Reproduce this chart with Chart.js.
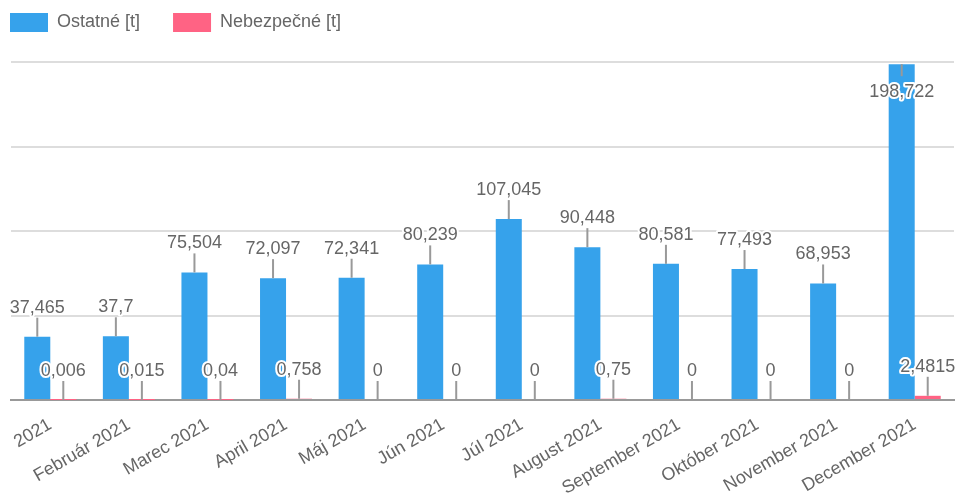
<!DOCTYPE html>
<html>
<head>
<meta charset="utf-8">
<script src="https://cdn.jsdelivr.net/npm/chart.js@4/dist/chart.umd.min.js"></script>
<style>
  html, body { margin: 0; padding: 0; background: #fff; }
  #wrap { width: 957px; height: 495px; }
</style>
</head>
<body>
<div id="wrap"><canvas id="graf"></canvas></div>
<script>
const mesiace = ['Január 2021', 'Február 2021', 'Marec 2021', 'April 2021', 'Máj 2021', 'Jún 2021',
  'Júl 2021', 'August 2021', 'September 2021', 'Október 2021', 'November 2021', 'December 2021'];
const ostatne = [37.465, 37.7, 75.504, 72.097, 72.341, 80.239, 107.045, 90.448, 80.581, 77.493, 68.953, 198.722];
const nebezpecne = [0.006, 0.015, 0.04, 0.758, 0, 0, 0, 0.75, 0, 0, 0, 2.4815];

const FONT = '"Liberation Sans", Arial, Helvetica, sans-serif';

/* ── popisky s čiarou nad stĺpcami ── */
const popisky = {
  id: 'popisky',
  beforeInit(chart) {
    // viac miesta pod legendou
    const fit = chart.legend.fit;
    chart.legend.fit = function () { fit.call(this); this.height += 20; };
  },
  afterDatasetsDraw(chart) {
    const { ctx, chartArea } = chart;
    ctx.save();
    ctx.font = '18px ' + FONT;
    ctx.textAlign = 'center';
    ctx.textBaseline = 'middle';
    chart.data.datasets.forEach((ds, di) => {
      chart.getDatasetMeta(di).data.forEach((bar, i) => {
        const x = bar.x, y = bar.y;
        let y2 = y - 19, ty = y - 29;
        if (ty - 9 < chartArea.top) { y2 = y + 12; ty = y + 28; }
        ctx.strokeStyle = '#999';
        ctx.lineWidth = 2;
        ctx.beginPath();
        ctx.moveTo(x, y);
        ctx.lineTo(x, y2);
        ctx.stroke();
        const txt = String(ds.data[i]).replace('.', ',');
        ctx.lineWidth = 4;
        ctx.lineJoin = 'round';
        ctx.strokeStyle = '#fff';
        ctx.strokeText(txt, x, ty);
        ctx.fillStyle = '#666';
        ctx.fillText(txt, x, ty);
      });
    });
    ctx.restore();
  },
  afterDraw(chart) {
    // prvý popisok je v origináli orezaný pri ľavom okraji
    const { ctx, chartArea } = chart;
    ctx.save();
    ctx.fillStyle = '#fff';
    ctx.fillRect(0, chartArea.bottom + 2, 11, chart.height);
    ctx.restore();
  }
};

Chart.defaults.font.family = FONT;
Chart.defaults.font.size = 18;
Chart.defaults.color = '#666';

new Chart(document.getElementById('graf'), {
  type: 'bar',
  data: {
    labels: mesiace,
    datasets: [
      { label: 'Ostatné [t]', data: ostatne, backgroundColor: '#36A2EB' },
      { label: 'Nebezpečné [t]', data: nebezpecne, backgroundColor: '#FF6384' }
    ]
  },
  options: {
    responsive: true,
    maintainAspectRatio: false,
    animation: false,
    categoryPercentage: 0.662,
    barPercentage: 1,
    layout: { padding: { left: -23, right: 3, top: -20, bottom: 0 } },
    plugins: {
      legend: {
        align: 'start',
        labels: { boxWidth: 38, boxHeight: 19, padding: 33 }
      },
      tooltip: { enabled: false }
    },
    scales: {
      x: {
        grid: { display: false, drawTicks: false },
        border: { color: '#999', width: 2 },
        ticks: { minRotation: 30, maxRotation: 30, autoSkip: false, padding: 14 },
        afterFit(s) { s.paddingLeft = 0; s.paddingRight = 0; s.height = 95; }
      },
      y: {
        min: 0,
        max: 200,
        ticks: { display: false, stepSize: 50 },
        grid: { color: '#ddd', lineWidth: 2, drawTicks: false },
        border: { display: false },
        afterFit(s) { s.width = 34; }
      }
    }
  },
  plugins: [popisky]
});
</script>
</body>
</html>
